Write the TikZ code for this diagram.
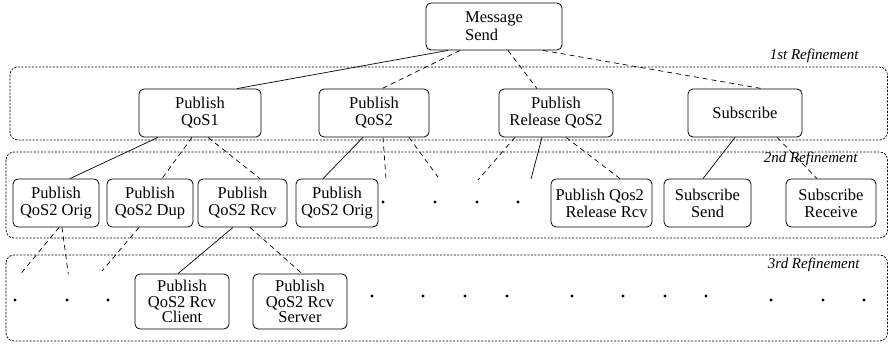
\documentclass[tikz,border=0pt]{standalone}
\usepackage{fontspec}
\setmainfont{Liberation Serif}
\begin{document}
\begin{tikzpicture}[x=1pt,y=-1pt,
  box/.style={draw, rounded corners=5pt, line width=0.8pt, inner sep=0pt,
    align=center, font=\fontsize{16.5}{17}\selectfont},
  region/.style={draw, rounded corners=8pt, line width=0.7pt,
    dash pattern=on 2.2pt off 1.3pt},
  link/.style={line width=0.7pt},
  dlink/.style={line width=0.7pt, dash pattern=on 5pt off 4pt},
  dot/.style={circle, fill, inner sep=0pt, minimum size=3.4pt},
  tag/.style={anchor=base east, font=\fontsize{15}{15}\selectfont\itshape}]
\useasboundingbox (0,0) rectangle (889,344);

% refinement layers
\draw[region] (10,67) rectangle (887.5,140);
\draw[region] (6,152) rectangle (887.5,238);
\draw[region] (6,255) rectangle (887.5,341);
\node[tag] (t1) at (862,60) {1st Refinement};
\node[tag] (t2) at (861,163) {2nd Refinement};
\node[tag] (t3) at (863,269) {3rd Refinement};

% root
\node[box, align=left, font=\fontsize{16.5}{18}\selectfont,
  minimum width=136pt, minimum height=47pt] (ms) at (494,26.5) {Message\\Send};

% first refinement
\node[box, minimum width=122pt, minimum height=48pt] (q1) at (200,113) {Publish\\QoS1};
\node[box, minimum width=110pt, minimum height=48pt] (q2) at (374,113) {Publish\\QoS2};
\node[box, minimum width=114pt, minimum height=48pt] (prq) at (556,113) {Publish\\Release QoS2};
\node[box, minimum width=114pt, minimum height=48pt] (sub) at (745,113) {Subscribe};

% second refinement
\node[box, minimum width=86pt, minimum height=48pt] (o1) at (56,203) {Publish\\QoS2 Orig};
\node[box, minimum width=86pt, minimum height=48pt] (dup) at (150,203) {Publish\\QoS2 Dup};
\node[box, minimum width=89pt, minimum height=48pt] (rcv) at (242.5,203) {Publish\\QoS2 Rcv};
\node[box, minimum width=82pt, minimum height=48pt] (o2) at (337,203) {Publish\\QoS2 Orig};
\node[box, align=left, minimum width=101pt, minimum height=48pt] (rr) at (601.5,203) {Publish Qos2\\\hspace*{10pt}Release Rcv};
\node[box, minimum width=87pt, minimum height=48pt] (ss) at (707.5,203) {Subscribe\\Send};
\node[box, minimum width=90pt, minimum height=48pt] (sr) at (831,203) {Subscribe\\Receive};

% third refinement
\node[box, font=\fontsize{16.5}{15.5}\selectfont,
  minimum width=94pt, minimum height=55pt] (cl) at (182,301.5) {Publish\\QoS2 Rcv\\Client};
\node[box, font=\fontsize{16.5}{15.5}\selectfont,
  minimum width=94pt, minimum height=55pt] (sv) at (300,301.5) {Publish\\QoS2 Rcv\\Server};

% elided siblings
\foreach \x [count=\i] in {383,435,477,518}
  \node[dot] (a\i) at (\x,202) {};
\foreach \x [count=\i] in {15,67,108}
  \node[dot] (b\i) at (\x,300) {};
\foreach \x [count=\i] in {372,423,465,507,572,623,665,706}
  \node[dot] (c\i) at (\x,296) {};
\foreach \x [count=\i] in {771,823,864}
  \node[dot] (e\i) at (\x,300) {};

% loose ends of elided branches
\coordinate (f1) at (386,179);
\coordinate (f2) at (438,177);
\coordinate (f3) at (478,180);
\coordinate (f4) at (531,179);
\coordinate (f5) at (21.7,272.7);
\coordinate (f6) at (68.3,274);
\coordinate (f7) at (102,271);

% root to first refinement
\draw[link]  ([xshift=-46pt]ms.south) -- ([xshift=37pt]q1.north);
\draw[dlink] ([xshift=-34pt]ms.south) -- ([xshift=8pt]q2.north);
\draw[dlink] ([xshift=14pt]ms.south)  -- ([xshift=-19pt]prq.north);
\draw[dlink] ([xshift=49pt]ms.south)  -- ([xshift=17pt]sub.north);

% first to second refinement
\draw[link]  ([xshift=-42pt]q1.south) -- ([xshift=14pt]o1.north);
\draw[dlink] ([xshift=-8pt]q1.south)  -- ([xshift=12pt]dup.north);
\draw[dlink] ([xshift=8pt]q1.south)   -- ([xshift=17.5pt]rcv.north);
\draw[link]  ([xshift=-11pt]q2.south) -- ([xshift=-14pt]o2.north);
\draw[dlink] ([xshift=9pt]q2.south)   -- (f1);
\draw[dlink] ([xshift=35pt]q2.south)  -- (f2);
\draw[dlink] ([xshift=-41pt]prq.south) -- (f3);
\draw[link]  ([xshift=-14pt]prq.south) -- (f4);
\draw[dlink] ([xshift=10pt]prq.south) -- ([xshift=18.5pt]rr.north);
\draw[link]  ([xshift=-10pt]sub.south) -- ([xshift=-4.5pt]ss.north);
\draw[dlink] ([xshift=32pt]sub.south) -- ([xshift=-14pt]sr.north);

% second to third refinement
\draw[dlink] ([xshift=3pt]o1.south) -- (f5);
\draw[dlink] ([xshift=6pt]o1.south) -- (f6);
\draw[dlink] ([xshift=-11pt]dup.south) -- (f7);
\draw[link]  ([xshift=-9.5pt]rcv.south) -- ([xshift=-4pt]cl.north);
\draw[dlink] ([xshift=7.5pt]rcv.south) -- ([xshift=2pt]sv.north);
\end{tikzpicture}
\end{document}
